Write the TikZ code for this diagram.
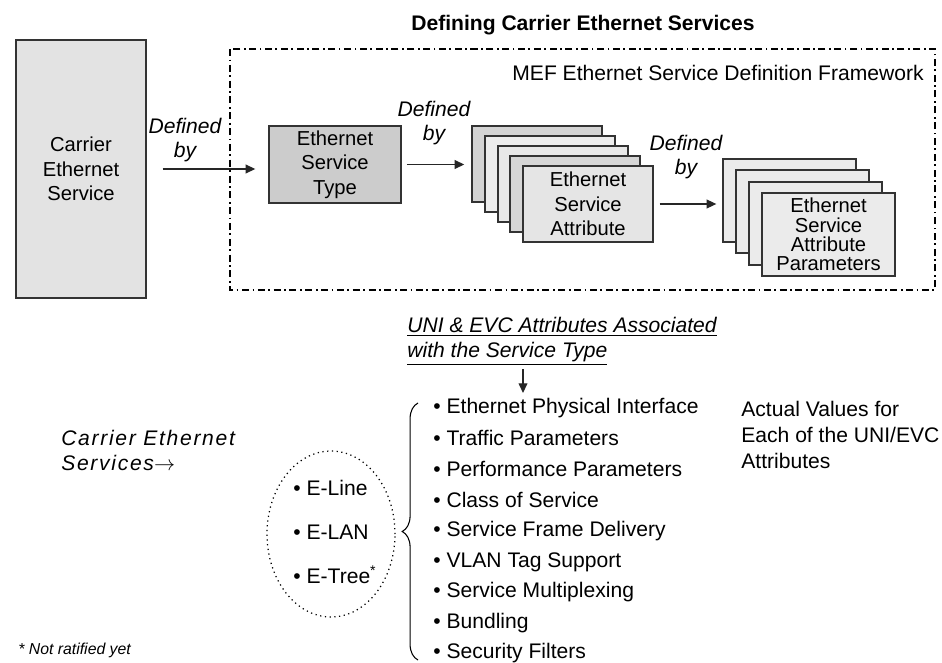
\documentclass[tikz,border=0pt]{standalone}
\usepackage{fontspec}
\setmainfont{Liberation Sans}
\usetikzlibrary{shapes.geometric}
\usetikzlibrary{arrows.meta}
\usetikzlibrary{decorations.pathreplacing}

\tikzset{
  box/.style={draw=black!80, line width=0.8pt, inner sep=0pt, align=center, font=\fontsize{11.5}{14}\selectfont},
  attbox/.style={box, minimum width=2.6cm, minimum height=1.52cm},
  parbox/.style={box, minimum width=2.66cm, minimum height=1.66cm, fill=black!8},
  defby/.style={font=\fontsize{12}{14}\selectfont\itshape, align=center, inner sep=0pt},
  arr/.style={-{Triangle[length=5.5pt,width=5pt]}, line width=0.7pt, black!85},
  item/.style={anchor=west, inner sep=0pt, font=\fontsize{12}{14}\selectfont},
}

\begin{document}
\begin{tikzpicture}[x=0.02cm, y=-0.02cm]
\useasboundingbox (0,0) rectangle (942,662);

\node[font=\fontsize{12}{14}\selectfont\bfseries, inner sep=0pt] (title) at (583,25) {Defining Carrier Ethernet Services};
\draw[line width=0.7pt, dash pattern=on 4pt off 2pt on 1pt off 2pt] (230,49) rectangle (935,290);
\node[anchor=east, inner sep=0pt, font=\fontsize{12}{14}\selectfont] (mef) at (924,73) {MEF Ethernet Service Definition Framework};

\node[box, fill=black!11, minimum width=2.6cm, minimum height=5.16cm] (cesvc) at (81,169) {Carrier\\Ethernet\\Service};
\node[box, fill=black!20, minimum width=2.64cm, minimum height=1.54cm] (type) at (335,164.5) {Ethernet\\Service\\Type};

\node[attbox, fill=black!17] (att1) at (537,164) {};
\node[attbox, fill=black!7] (att2) at (550,174) {};
\node[attbox, fill=black!9] (att3) at (563,184) {};
\node[attbox, fill=black!16] (att4) at (575,194) {};
\node[attbox, fill=black!10] (att5) at (588,204) {Ethernet\\Service\\Attribute};

\node[parbox] (par1) at (789.5,200.5) {};
\node[parbox] (par2) at (802.5,211.5) {};
\node[parbox] (par3) at (815.5,223.5) {};
\node[parbox, font=\fontsize{11.5}{11}\selectfont] (par4) at (828.5,234.5) {Ethernet\\Service\\Attribute\\Parameters};

\node[defby] (def1) at (185,140) {Defined\\by};
\node[defby] (def2) at (434,123) {Defined\\by};
\node[defby] (def3) at (686,157) {Defined\\by};

\draw[arr, shorten <=9pt, shorten >=7.4pt] (cesvc.east) -- (cesvc.east -| type.west);
\draw[arr, shorten <=3pt, shorten >=4pt] (type.east) -- (type.east -| att1.west);
\draw[arr, shorten <=3.4pt, shorten >=3.4pt] (att5.east) -- (att5.east -| par1.west);

\node[anchor=north west, inner sep=0pt, align=left, font=\fontsize{12}{14.2}\selectfont\itshape] (uni) at (407,317) {\underline{UNI \& EVC Attributes Associated}\\\underline{with the Service Type}};
\coordinate (dn) at (523,393);
\draw[arr, shorten <=2pt] (uni.south -| dn) -- (dn);

\node[anchor=north west, inner sep=0pt, align=left, font=\fontsize{12}{14.2}\selectfont\itshape\addfontfeatures{LetterSpace=8}] (ces) at (61,430) {Carrier Ethernet\\Services$\rightarrow$};

\node[ellipse, draw, dotted, line width=0.7pt, minimum width=2.56cm, minimum height=3.32cm] (svcs) at (331,534) {};
\node[item] (eline) at (293,488) {\textbullet\ E-Line};
\node[item] (elan) at (293,532) {\textbullet\ E-LAN};
\node[item] (etree) at (293,575) {\textbullet\ E-Tree\textsuperscript{*}};

\draw[decorate, decoration={brace, amplitude=9pt}, line width=0.6pt] (418,660) -- (418,403);

\node[item] (it1) at (433,408) {\textbullet\ Ethernet Physical Interface};
\node[item] (it2) at (433,438) {\textbullet\ Traffic Parameters};
\node[item] (it3) at (433,469) {\textbullet\ Performance Parameters};
\node[item] (it4) at (433,500) {\textbullet\ Class of Service};
\node[item] (it5) at (433,531) {\textbullet\ Service Frame Delivery};
\node[item] (it6) at (433,562) {\textbullet\ VLAN Tag Support};
\node[item] (it7) at (433,592) {\textbullet\ Service Multiplexing};
\node[item] (it8) at (433,623) {\textbullet\ Bundling};
\node[item] (it9) at (433,653) {\textbullet\ Security Filters};

\node[anchor=north west, inner sep=0pt, align=left, font=\fontsize{12}{14.8}\selectfont] (vals) at (741,401) {Actual Values for\\Each of the UNI/EVC\\Attributes};

\node[item, font=\fontsize{9}{10}\selectfont\itshape] (note) at (18,650) {* Not ratified yet};
\end{tikzpicture}
\end{document}
